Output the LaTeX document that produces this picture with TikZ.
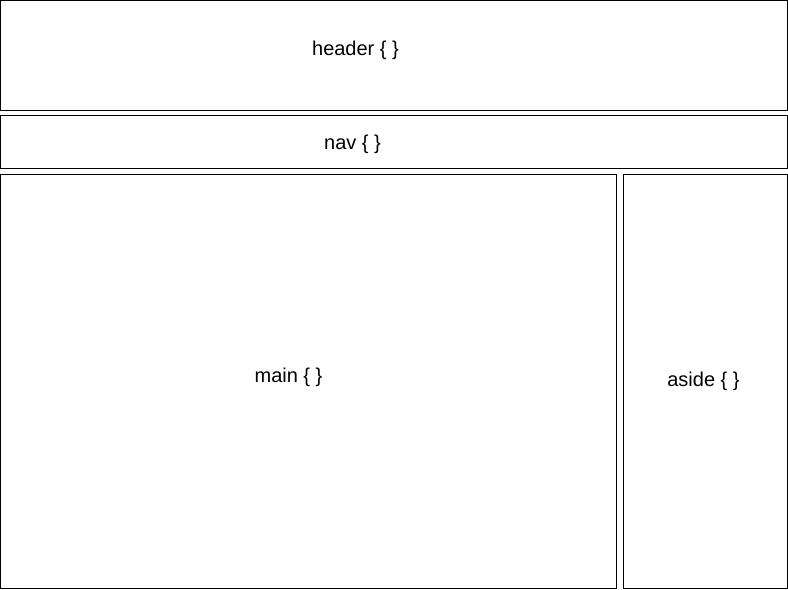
\documentclass[tikz,border=0pt]{standalone}
\usepackage{fontspec}
\setmainfont{Liberation Sans}
\begin{document}
\begin{tikzpicture}[x=0.75pt,y=-0.75pt,
  region/.style={draw=black,line width=0.75pt,fill=white},
  lbl/.style={font=\fontsize{15}{18}\selectfont,inner sep=0pt,anchor=center}]
\useasboundingbox (0,0) rectangle (788,589);
\fill[white] (0,0) rectangle (788,589);
\draw[region] (0.5,0.5) rectangle (787,110);
\draw[region] (0.5,115.5) rectangle (787,168);
\draw[region] (0.5,174.5) rectangle (616.5,588);
\draw[region] (623,174.5) rectangle (787,588);
\node[lbl] (header) at (355.5,50.5) {header \{ \}};
\node[lbl] (nav) at (352.5,144.5) {nav \{ \}};
\node[lbl] (main) at (288.5,377.5) {main \{ \}};
\node[lbl] (aside) at (703.5,381.5) {aside \{ \}};
\end{tikzpicture}
\end{document}
